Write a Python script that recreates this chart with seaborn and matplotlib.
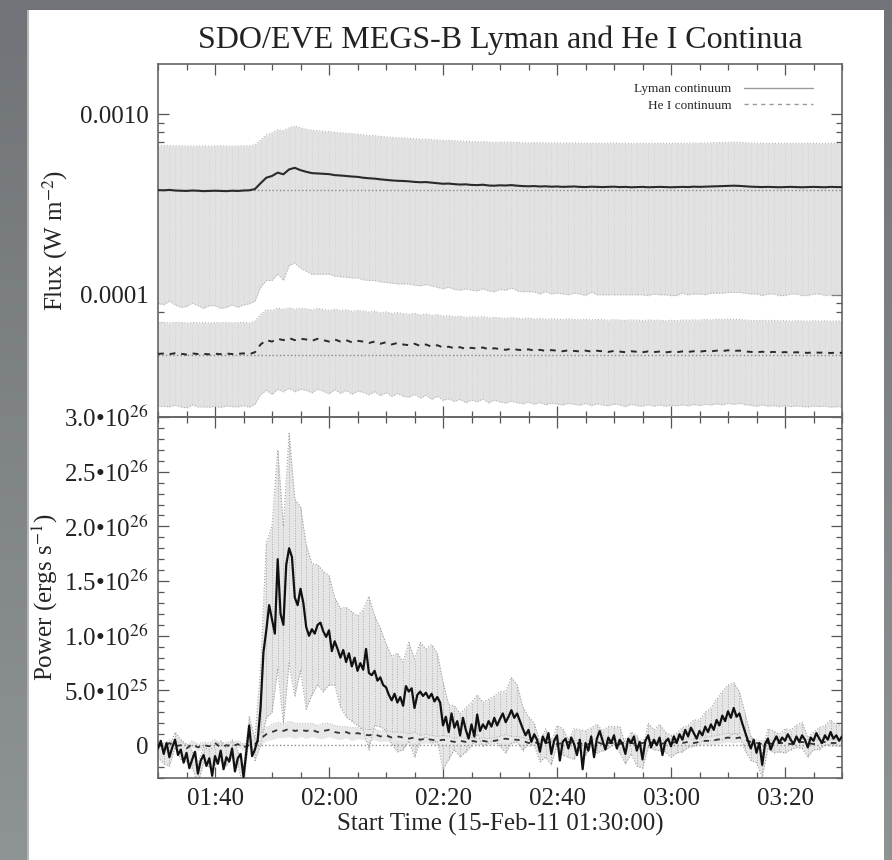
import numpy as np
import pandas as pd
import matplotlib
matplotlib.use("Agg")
import matplotlib.pyplot as plt
import seaborn as sns
from matplotlib.colors import LinearSegmentedColormap
from matplotlib.lines import Line2D
from matplotlib.patches import Rectangle
from matplotlib.ticker import (FixedLocator, FixedFormatter, LogLocator,
                               MultipleLocator, NullFormatter, FuncFormatter)

# ---------------------------------------------------------------- data
START = "01:30"
time_labels = ["01:40", "02:00", "02:20", "02:40", "03:00", "03:20"]
flux_tick_labels = ["0.0001", "0.0010"]
power_ticks = [0.0, 5e25, 1.0e26, 1.5e26, 2.0e26, 2.5e26, 3.0e26]

# EVE flux samples, one per minute from 01:30 (units 1e-4 and 1e-5 W m^-2)
lyman_flux = [
    3.80, 3.79, 3.81, 3.78, 3.77, 3.76, 3.78, 3.77, 3.75, 3.76,
    3.77, 3.76, 3.75, 3.77, 3.76, 3.78, 3.79, 3.85, 4.15, 4.45,
    4.55, 4.75, 4.65, 4.95, 5.05, 4.90, 4.80, 4.72, 4.70, 4.68,
    4.66, 4.60, 4.58, 4.55, 4.52, 4.50, 4.45, 4.42, 4.40, 4.36,
    4.33, 4.30, 4.28, 4.27, 4.25, 4.22, 4.20, 4.21, 4.18, 4.15,
    4.12, 4.13, 4.10, 4.08, 4.09, 4.06, 4.05, 4.07, 4.03, 4.02,
    4.04, 4.03, 4.05, 4.02, 4.00, 3.99, 4.00, 3.98, 3.99, 3.97,
    3.98, 3.96, 3.97, 3.98, 3.96, 3.95, 3.97, 3.96, 3.95, 3.96,
    3.97, 3.95, 3.96, 3.94, 3.95, 3.96, 3.94, 3.95, 3.96, 3.95,
    3.94, 3.95, 3.96, 3.95, 3.97, 3.96, 3.97, 3.98, 3.99, 4.00,
    4.01, 4.02, 4.01, 3.99, 3.97, 3.96, 3.95, 3.96, 3.95, 3.94,
    3.95, 3.96, 3.95, 3.94, 3.95, 3.96, 3.95, 3.94, 3.96, 3.95,
    3.95]
lyman_flux_err = [
    2.90, 2.91, 2.89, 2.90, 2.92, 2.90, 2.88, 2.90, 2.91, 2.89,
    2.90, 2.92, 2.90, 2.89, 2.91, 2.90, 2.90, 2.93, 3.05, 3.25,
    3.35, 3.45, 3.45, 3.50, 3.55, 3.50, 3.45, 3.42, 3.40, 3.38,
    3.36, 3.33, 3.32, 3.30, 3.28, 3.26, 3.24, 3.22, 3.20, 3.18,
    3.16, 3.14, 3.13, 3.12, 3.10, 3.09, 3.08, 3.07, 3.06, 3.05,
    3.04, 3.03, 3.03, 3.02, 3.01, 3.00, 3.00, 2.99, 2.98, 2.98,
    2.97, 2.97, 2.96, 2.97, 2.96, 2.95, 2.96, 2.97, 2.95, 2.96,
    2.96, 2.95, 2.97, 2.96, 2.95, 2.96, 2.94, 2.96, 2.95, 2.96,
    2.97, 2.95, 2.96, 2.94, 2.95, 2.96, 2.95, 2.94, 2.96, 2.95,
    2.95, 2.96, 2.94, 2.95, 2.96, 2.95, 2.97, 2.96, 2.97, 2.98,
    2.98, 2.99, 2.98, 2.97, 2.96, 2.95, 2.96, 2.95, 2.94, 2.95,
    2.96, 2.95, 2.94, 2.95, 2.96, 2.95, 2.94, 2.95, 2.96, 2.95,
    2.95]
hei_flux = [
    4.70, 4.72, 4.68, 4.74, 4.71, 4.66, 4.73, 4.69, 4.70, 4.67,
    4.71, 4.68, 4.72, 4.69, 4.70, 4.73, 4.68, 4.80, 5.30, 5.60,
    5.50, 5.70, 5.60, 5.75, 5.60, 5.70, 5.65, 5.55, 5.70, 5.60,
    5.50, 5.65, 5.50, 5.60, 5.45, 5.55, 5.50, 5.40, 5.50, 5.35,
    5.45, 5.30, 5.40, 5.30, 5.25, 5.35, 5.20, 5.30, 5.15, 5.25,
    5.10, 5.15, 5.05, 5.12, 5.00, 5.08, 5.02, 5.10, 4.98, 5.05,
    5.00, 4.95, 5.02, 4.96, 4.92, 4.98, 4.90, 4.95, 4.88, 4.93,
    4.90, 4.86, 4.92, 4.88, 4.85, 4.90, 4.84, 4.89, 4.86, 4.82,
    4.88, 4.84, 4.80, 4.86, 4.83, 4.80, 4.85, 4.81, 4.84, 4.79,
    4.83, 4.80, 4.85, 4.82, 4.86, 4.83, 4.88, 4.85, 4.90, 4.87,
    4.92, 4.88, 4.90, 4.85, 4.82, 4.80, 4.83, 4.79, 4.82, 4.78,
    4.81, 4.77, 4.80, 4.78, 4.76, 4.80, 4.77, 4.79, 4.75, 4.78,
    4.76]
hei_flux_err = [
    2.30, 2.31, 2.29, 2.30, 2.32, 2.30, 2.28, 2.30, 2.31, 2.29,
    2.30, 2.31, 2.30, 2.29, 2.31, 2.30, 2.30, 2.33, 2.50, 2.65,
    2.70, 2.71, 2.70, 2.72, 2.70, 2.71, 2.70, 2.69, 2.70, 2.68,
    2.68, 2.67, 2.66, 2.65, 2.64, 2.63, 2.62, 2.61, 2.60, 2.59,
    2.58, 2.57, 2.56, 2.56, 2.55, 2.54, 2.53, 2.53, 2.52, 2.51,
    2.50, 2.50, 2.49, 2.49, 2.48, 2.47, 2.47, 2.46, 2.46, 2.45,
    2.45, 2.44, 2.45, 2.44, 2.43, 2.44, 2.43, 2.42, 2.43, 2.42,
    2.42, 2.41, 2.42, 2.41, 2.41, 2.40, 2.41, 2.40, 2.41, 2.40,
    2.40, 2.39, 2.40, 2.39, 2.40, 2.39, 2.39, 2.40, 2.39, 2.38,
    2.39, 2.38, 2.39, 2.40, 2.39, 2.40, 2.41, 2.40, 2.41, 2.42,
    2.42, 2.41, 2.40, 2.39, 2.38, 2.39, 2.38, 2.38, 2.39, 2.38,
    2.38, 2.37, 2.38, 2.38, 2.37, 2.38, 2.37, 2.38, 2.37, 2.38,
    2.37]
lyman_flux_base = 3.80   # 1e-4 W m^-2, pre-flare level
hei_flux_base = 4.62     # 1e-5 W m^-2, pre-flare level

# Radiated power, Lyman continuum every 30 s (units 1e25 erg s^-1)
lyman_power = [
    -0.3, 0.4, -0.8, 0.2, -1.1, -0.2, 0.5, -0.9, -0.4, -1.6,
    -0.7, -2.1, -1.3, -0.6, -2.6, -1.4, -0.9, -1.9, -1.2, -2.8,
    -1.0, -1.7, -0.5, -2.2, -1.1, -1.5, -0.3, -2.4, -1.2, -0.8,
    -2.9, -0.6, 1.8, -1.0, -0.4, 0.5, 3.5, 8.5, 10.5, 12.8,
    11.5, 10.2, 17.0, 12.0, 11.0, 16.5, 18.0, 17.2, 13.5, 12.8,
    14.3, 13.0, 10.8, 10.0, 10.6, 10.2, 11.0, 11.2, 10.4, 9.9,
    10.5, 8.6, 9.5, 8.8, 8.0, 8.7, 7.6, 8.4, 7.2, 8.0,
    6.8, 7.5, 6.9, 8.8, 6.6, 6.4, 6.8, 5.9, 6.2, 5.5,
    5.3, 4.6, 4.1, 4.7, 3.9, 4.4, 3.6, 5.4, 4.9, 5.2,
    3.4, 4.6, 4.9, 4.5, 4.8, 4.3, 4.7, 4.0, 4.4, 3.9,
    1.8, 2.6, 1.2, 2.9, 1.6, 2.2, 0.9, 2.5, 1.4, 0.6,
    1.9, 0.8, 2.8, 1.3, 1.9, 1.5, 2.2, 1.7, 2.5, 1.8,
    2.4, 2.9, 2.1, 2.6, 3.2, 2.5, 2.9, 2.2, 1.5, 0.9,
    1.4, 0.3, 1.0, 0.5, -0.6, 0.8, 0.2, 1.1, -0.8, 0.4,
    0.9, -1.4, 0.3, 0.6, -0.3, 0.7, 0.1, -0.9, 0.5, -2.2,
    0.2, -0.5, 0.8, -1.1, 0.6, 1.3, 0.4, -0.4, 0.7, 0.2,
    0.9, -0.3, 0.5, 0.1, -0.8, 0.6, 0.2, 0.8, -0.5, 0.3,
    -1.3, 0.4, 0.9, -0.2, 0.5, 0.0, 0.7, -0.9, 0.3, 0.6,
    -0.1, 0.8, 0.2, 1.0, 0.5, 1.4, 0.8, 1.6, 1.1, 0.6,
    1.3, 0.9, 1.7, 1.2, 1.9, 1.4, 2.3, 1.8, 2.7, 2.2,
    3.1, 2.5, 3.4, 2.6, 2.9, 2.0, 1.2, 0.4, -0.3, 0.5,
    -0.7, 0.2, -1.8, 0.1, 0.6, -0.4, 0.3, 0.8, 0.2, 0.7,
    0.4, 1.0, 0.5, 0.1, 0.8, 0.3, 0.9, 0.5, -0.2, 0.7,
    0.4, 1.1, 0.6, 0.2, 0.9, 0.5, 1.2, 0.6, 0.9, 0.4,
    0.8]
# uncertainty of the Lyman power, one per minute (units 1e25 erg s^-1)
lyman_power_err = [
    0.8, 0.9, 0.8, 0.7, 0.9, 0.8, 0.8, 0.9, 0.7, 0.8,
    0.8, 0.9, 0.8, 0.8, 0.7, 0.9, 0.8, 1.0, 3.5, 8.0,
    8.5, 10.0, 9.0, 10.5, 9.0, 7.5, 7.5, 6.0, 5.5, 5.5,
    5.0, 4.0, 4.5, 5.0, 5.0, 5.0, 5.5, 7.0, 5.0, 4.5,
    4.0, 4.0, 4.5, 4.0, 4.5, 4.5, 4.5, 4.0, 4.5, 4.0,
    4.0, 2.5, 2.0, 2.0, 2.0, 2.0, 1.8, 2.0, 2.0, 2.0,
    2.5, 2.8, 3.0, 2.6, 2.0, 1.2, 1.0, 0.9, 1.3, 1.0,
    0.9, 1.2, 0.8, 1.4, 0.9, 1.1, 0.8, 1.3, 0.9, 1.0,
    0.8, 1.2, 0.9, 1.0, 1.4, 0.8, 1.1, 0.9, 1.2, 0.9,
    1.0, 0.9, 1.1, 1.0, 1.2, 1.0, 1.3, 1.5, 1.9, 2.2,
    2.4, 2.3, 2.0, 1.7, 1.1, 0.9, 1.1, 0.9, 1.0, 0.8,
    1.1, 0.9, 1.0, 1.2, 0.9, 0.8, 1.0, 0.9, 1.1, 0.9,
    1.0]
# He I continuum power, one per minute (units 1e25 erg s^-1)
hei_power = [
    0.1, -0.2, 0.2, -0.1, 0.0, -0.3, 0.1, -0.2, 0.0, -0.1,
    0.2, -0.2, 0.0, -0.1, 0.1, -0.2, 0.0, 0.1, 0.6, 1.0,
    1.2, 1.4, 1.3, 1.5, 1.3, 1.4, 1.3, 1.4, 1.2, 1.3,
    1.4, 1.2, 1.1, 1.2, 1.0, 1.1, 1.0, 0.9, 1.0, 0.8,
    0.9, 0.7, 0.8, 0.7, 0.6, 0.7, 0.5, 0.6, 0.5, 0.4,
    0.5, 0.4, 0.3, 0.4, 0.3, 0.4, 0.3, 0.4, 0.3, 0.4,
    0.5, 0.6, 0.5, 0.5, 0.4, 0.2, 0.3, 0.1, 0.2, 0.3,
    0.1, 0.2, 0.3, 0.1, 0.2, 0.0, 0.2, 0.3, 0.1, 0.2,
    0.2, 0.1, 0.3, 0.2, 0.1, 0.2, 0.3, 0.2, 0.1, 0.2,
    0.2, 0.3, 0.2, 0.3, 0.2, 0.3, 0.4, 0.4, 0.5, 0.6,
    0.7, 0.6, 0.7, 0.5, 0.3, 0.2, 0.1, 0.2, 0.1, 0.2,
    0.2, 0.1, 0.2, 0.3, 0.2, 0.1, 0.2, 0.3, 0.2, 0.2,
    0.2]
hei_power_err = [
    0.3, 0.3, 0.3, 0.3, 0.3, 0.3, 0.3, 0.3, 0.3, 0.3,
    0.3, 0.3, 0.3, 0.3, 0.3, 0.3, 0.3, 0.3, 0.5, 0.6,
    0.7, 0.7, 0.6, 0.7, 0.7, 0.6, 0.7, 0.6, 0.6, 0.7,
    0.6, 0.6, 0.6, 0.5, 0.6, 0.5, 0.5, 0.5, 0.5, 0.5,
    0.5, 0.5, 0.4, 0.5, 0.4, 0.5, 0.4, 0.4, 0.4, 0.4,
    0.4, 0.4, 0.3, 0.4, 0.3, 0.3, 0.3, 0.3, 0.3, 0.3,
    0.3, 0.4, 0.3, 0.3, 0.3, 0.3, 0.3, 0.3, 0.3, 0.3,
    0.3, 0.3, 0.3, 0.3, 0.3, 0.3, 0.3, 0.3, 0.3, 0.3,
    0.3, 0.3, 0.3, 0.3, 0.3, 0.3, 0.3, 0.3, 0.3, 0.3,
    0.3, 0.3, 0.3, 0.3, 0.3, 0.3, 0.3, 0.4, 0.4, 0.4,
    0.4, 0.4, 0.4, 0.3, 0.3, 0.3, 0.3, 0.3, 0.3, 0.3,
    0.3, 0.3, 0.3, 0.3, 0.3, 0.3, 0.3, 0.3, 0.3, 0.3,
    0.3]

# ---------------------------------------------------------------- prep
def to_minutes(hhmm):
    h, m = hhmm.split(":")
    return int(h) * 60 + int(m)

t0 = to_minutes(START)
t_min = np.arange(len(lyman_flux)) * 1.0          # 1-minute cadence
t_half = np.arange(len(lyman_power)) * 0.5        # 30-second cadence

ly_f = np.array(lyman_flux) * 1e-4
ly_fe = np.array(lyman_flux_err) * 1e-4
he_f = np.array(hei_flux) * 1e-5
he_fe = np.array(hei_flux_err) * 1e-5
ly_p = np.array(lyman_power) * 1e25
ly_p_min = ly_p[::2]
ly_pe = np.array(lyman_power_err) * 1e25
he_p = np.array(hei_power) * 1e25
he_pe = np.array(hei_power_err) * 1e25

flux_df = pd.DataFrame({"t": t_min, "lyman": ly_f, "hei": he_f})
power_df = pd.DataFrame({"t": t_half, "lyman": ly_p})
hei_power_df = pd.DataFrame({"t": t_min, "hei": he_p})

# ---------------------------------------------------------------- style
sns.set_theme(style="ticks")
plt.rcParams["font.family"] = ["Liberation Serif", "DejaVu Serif"]
plt.rcParams["mathtext.fontset"] = "stix"

W, H = 892, 860
fig = plt.figure(figsize=(W / 100, H / 100), dpi=100)

# grey slide backdrop with the white plotting card
bg = fig.add_axes([0, 0, 1, 1], zorder=-10)
grad = np.linspace(0, 1, 256).reshape(-1, 1)
bg.imshow(grad, extent=(0, 1, 0, 1), aspect="auto",
          cmap=LinearSegmentedColormap.from_list("bg", ["#707478", "#8e9393"]))
bg.add_patch(Rectangle((27 / W, 0), 2 / W, 1 - 10 / H, color="#b4b7b8",
                       transform=bg.transAxes, lw=0))
bg.add_patch(Rectangle((29 / W, 0), (884 - 29) / W, 1 - 10 / H, color="white",
                       transform=bg.transAxes, lw=0))
bg.set_xlim(0, 1)
bg.set_ylim(0, 1)
bg.axis("off")

L, R = 158, 842
top_y, mid_y, bot_y = 64, 417, 778
ax1 = fig.add_axes([L / W, 1 - mid_y / H, (R - L) / W, (mid_y - top_y) / H])
ax2 = fig.add_axes([L / W, 1 - bot_y / H, (R - L) / W, (bot_y - mid_y) / H])

band = "#e2e2e2"

# ---------------------------------------------------------------- flux panel
for f, fe in ((ly_f, ly_fe), (he_f, he_fe)):
    lo, hi = f - fe, f + fe
    ax1.fill_between(t_min, lo, hi, color=band, lw=0, zorder=1)
    ax1.vlines(t_min, lo, hi, color="#d2d2d2", lw=0.6, linestyles=":", zorder=1)
    ax1.plot(t_min, hi, color="#b4b4b4", lw=0.8, ls=":", zorder=2)
    ax1.plot(t_min, lo, color="#b4b4b4", lw=0.8, ls=":", zorder=2)

ax1.axhline(lyman_flux_base * 1e-4, color="#8a8a8a", lw=1.0, ls=":", zorder=2)
ax1.axhline(hei_flux_base * 1e-5, color="#8a8a8a", lw=1.0, ls=":", zorder=2)

sns.lineplot(data=flux_df, x="t", y="lyman", ax=ax1, color="#2a2a2a", lw=1.5,
             estimator=None, zorder=3)
sns.lineplot(data=flux_df, x="t", y="hei", ax=ax1, color="#2a2a2a", lw=1.4,
             linestyle=(0, (3, 3)), estimator=None, zorder=3)

ax1.set_yscale("log")
ax1.set_ylim(2.1e-5, 1.9e-3)
ax1.yaxis.set_major_locator(FixedLocator([float(s) for s in flux_tick_labels]))
ax1.yaxis.set_major_formatter(FixedFormatter(flux_tick_labels))
ax1.yaxis.set_minor_locator(LogLocator(base=10, subs=np.arange(2, 10)))
ax1.yaxis.set_minor_formatter(NullFormatter())
ax1.set_ylabel("Flux (W m$^{-2}$)", fontsize=18, va="center")
ax1.yaxis.set_label_coords((55 - L) / (R - L), 0.5)
ax1.set_xlabel("")
ax1.tick_params(labelbottom=False)

handles = [Line2D([], [], color="#9a9a9a", lw=1.0),
           Line2D([], [], color="#9a9a9a", lw=1.0, ls=(0, (3, 3)))]
ax1.legend(handles, ["Lyman continuum", "He I continuum"], loc="upper right",
           bbox_to_anchor=((813 - L) / (R - L), (mid_y - 83) / (mid_y - top_y)),
           frameon=False, markerfirst=False, fontsize=9.5, handlelength=5.2,
           handletextpad=1.0, labelspacing=0.35, borderpad=0, borderaxespad=0)

# ---------------------------------------------------------------- power panel
lo, hi = ly_p_min - ly_pe, ly_p_min + ly_pe
ax2.fill_between(t_min, lo, hi, color="#e5e5e5", lw=0, zorder=1)
ax2.vlines(t_min, lo, hi, color="#adadad", lw=0.7, linestyles=":", zorder=1)
ax2.plot(t_min, hi, color="#a0a0a0", lw=0.8, ls=":", zorder=2)
ax2.plot(t_min, lo, color="#a0a0a0", lw=0.8, ls=":", zorder=2)

lo, hi = he_p - he_pe, he_p + he_pe
ax2.fill_between(t_min, lo, hi, color="#e8e8e8", lw=0, zorder=1)
ax2.plot(t_min, hi, color="#b0b0b0", lw=0.7, ls=":", zorder=2)

ax2.axhline(0, color="#8a8a8a", lw=1.0, ls=":", zorder=2)

sns.lineplot(data=hei_power_df, x="t", y="hei", ax=ax2, color="#333333", lw=1.3,
             linestyle=(0, (3, 3)), estimator=None, zorder=3)
sns.lineplot(data=power_df, x="t", y="lyman", ax=ax2, color="#111111", lw=1.6,
             estimator=None, zorder=4)


def power_fmt(v, _pos):
    if v == 0:
        return "0"
    e = int(np.floor(np.log10(abs(v)) + 1e-9))
    return f"{v / 10 ** e:.1f}\u2022" + "10$^{" + str(e) + "}$"


ax2.set_ylim(-3e25, 3e26)
ax2.yaxis.set_major_locator(FixedLocator(power_ticks))
ax2.yaxis.set_major_formatter(FuncFormatter(power_fmt))
ax2.yaxis.set_minor_locator(MultipleLocator(1e25))
ax2.set_ylabel("Power (ergs s$^{-1}$)", fontsize=18, va="center")
ax2.yaxis.set_label_coords((45 - L) / (R - L), 0.5)
ax2.set_xlabel("Start Time (15-Feb-11 01:30:00)", fontsize=18, labelpad=2)

# ---------------------------------------------------------------- shared axis styling
tick_pos = [to_minutes(s) - t0 for s in time_labels]
for ax in (ax1, ax2):
    ax.set_xlim(0, 120)
    ax.xaxis.set_major_locator(FixedLocator(tick_pos))
    ax.xaxis.set_minor_locator(MultipleLocator(5))
    ax.tick_params(which="both", direction="in", top=True, right=True,
                   color="#555555", width=0.9)
    ax.tick_params(which="major", length=8, labelsize=18, pad=7,
                   labelcolor="#222222")
    ax.tick_params(which="minor", length=4)
    ax.set_facecolor("none")
    for s in ax.spines.values():
        s.set_color("#666666")
        s.set_linewidth(1.2)
ax2.xaxis.set_major_formatter(FixedFormatter(time_labels))

fig.text((L + R) / 2 / W, 1 - 40 / H, "SDO/EVE MEGS-B Lyman and He I Continua",
         ha="center", va="center", fontsize=23, color="#222222")

fig.savefig("out.png", dpi=100)
